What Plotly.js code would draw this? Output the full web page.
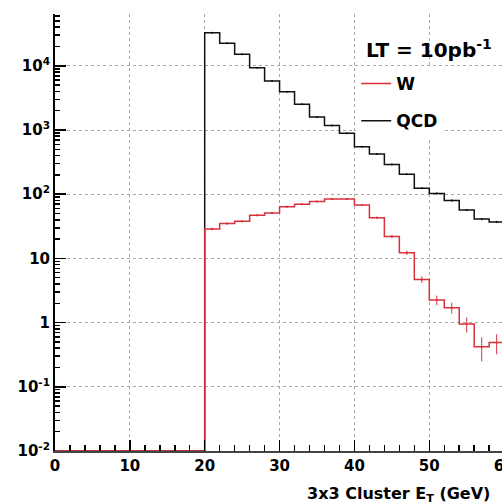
<!DOCTYPE html>
<html>
<head>
<meta charset="utf-8">
<script src="https://cdn.plot.ly/plotly-3.0.1.min.js"></script>
<style>
html,body{margin:0;padding:0;overflow:hidden;background:#fff;}
#chart{width:600px;height:504px;}
</style>
</head>
<body>
<div id="chart"></div>
<script>
// Bin lower edges (GeV), 2 GeV bins
const binLow = [0,2,4,6,8,10,12,14,16,18,20,22,24,26,28,30,32,34,36,38,40,42,44,46,48,50,52,54,56,58];
const binWidth = 2;
// QCD counts per bin
const qcd = [0,0,0,0,0,0,0,0,0,0, 32800,22400,15100,9340,5800,3950,2510,1600,1180,890,550,423,290,204,124,103,80,57,41,37];
const qcdErr = [0,0,0,0,0,0,0,0,0,0, 45,37,30,24,19,16,13,10,9,7.5,6,5.2,4.3,3.6,2.8,2.6,2.3,1.9,1.6,1.5];
// W counts per bin
const w = [0,0,0,0,0,0,0,0,0,0, 28.7,35,38,47,51,64,70,77,84,84,68,43,22,12.3,4.7,2.25,1.71,0.95,0.42,0.49];
const wErr = [0,0,0,0,0,0,0,0,0,0, 1.4,1.5,1.6,1.8,1.9,2.1,2.2,2.3,2.4,2.4,2.2,1.7,1.2,0.9,0.55,0.38,0.33,0.25,0.17,0.17];
// Axis tick labels
const yTickVals = [0.01,0.1,1,10,100,1000,10000];
const yTickText = ["10<sup>-2</sup>","10<sup>-1</sup>","1","10","10<sup>2</sup>","10<sup>3</sup>","10<sup>4</sup>"];
const legendTitle = "LT = 10pb<sup>-1</sup>";
const xTitle = "3x3 Cluster E<sub>T</sub> (GeV)";
const seriesNames = ["W","QCD"];

const yMinLog = -2, yMaxLog = 4.807;
const floorVal = Math.pow(10, yMinLog);
const FONT = "DejaVu Sans";

function stepTrace(vals, name, color, rank) {
  const x = binLow.concat([binLow[binLow.length-1] + binWidth]);
  const yv = vals.map(v => v > 0 ? v : floorVal);
  const y = yv.concat([yv[yv.length-1]]);
  return {x, y, type:'scatter', mode:'lines', name, legendgroup:name, legendrank:rank,
    line:{shape:'hv', color, width:1.5}, hoverinfo:'skip'};
}
function errTrace(vals, errs, color) {
  const x=[], y=[], e=[];
  vals.forEach((v,i)=>{ if(v>0){ x.push(binLow[i]+binWidth/2); y.push(v); e.push(errs[i]); } });
  return {x, y, type:'scatter', mode:'markers', showlegend:false,
    marker:{size:2, color}, error_y:{type:'data', array:e, visible:true, color, thickness:1, width:0}, hoverinfo:'skip'};
}

const qcdColor = '#111111', wColor = '#d8303c';
const data = [
  stepTrace(qcd, seriesNames[1], qcdColor, 2),
  errTrace(qcd, qcdErr, qcdColor),
  stepTrace(w, seriesNames[0], wColor, 1),
  errTrace(w, wErr, wColor)
];

const plotLeft = 55, plotW = 523.6, plotTop = 14, plotBottom = 451;
const plotH = plotBottom - plotTop;
const px = p => (p - plotLeft) / plotW;
const py = p => (plotBottom - p) / plotH;

const layout = {
  width: 600, height: 504,
  margin: {l: plotLeft, r: 600 - plotLeft - plotW, t: plotTop, b: 504 - plotBottom},
  paper_bgcolor: '#fff', plot_bgcolor: '#fff',
  showlegend: true,
  xaxis: {
    range: [0, 70], tick0: 0, dtick: 10, ticks: 'inside', ticklen: 11, tickcolor: '#000', tickwidth: 1.5,
    showline: true, linecolor: '#444', linewidth: 1.5, zeroline: false,
    showgrid: true, gridcolor: '#a8a8a8', griddash: '3px,3px', gridwidth: 1,
    tickfont: {family: FONT, size: 15, color: '#000', weight: 'bold'},
    minor: {dtick: 2, ticks: 'inside', ticklen: 6, tickcolor: '#000', showgrid: false}
  },
  yaxis: {
    type: 'log', range: [yMinLog, yMaxLog], tickmode: 'array', tickvals: yTickVals, ticktext: yTickText,
    ticks: 'inside', ticklen: 11, tickcolor: '#000', tickwidth: 1.5,
    showline: true, linecolor: '#000', linewidth: 2, zeroline: false,
    showgrid: true, gridcolor: '#a8a8a8', griddash: '3px,3px', gridwidth: 1,
    tickfont: {family: FONT, size: 15, color: '#000', weight: 'bold'},
    minor: {dtick: 'D1', ticks: 'inside', ticklen: 5, tickcolor: '#000', showgrid: false}
  },
  legend: {
    x: px(356), y: py(66), xanchor: 'left', yanchor: 'top',
    bgcolor: '#fff', borderwidth: 0, tracegroupgap: 12, traceorder: 'grouped',
    font: {family: FONT, size: 17, color: '#000', weight: 'bold'}
  },
  annotations: [
    {text: legendTitle, xref: 'paper', yref: 'paper', x: px(364), y: py(49), xanchor: 'left', yanchor: 'middle',
     showarrow: false, font: {family: FONT, size: 20, color: '#000', weight: 'bold'}},
    {text: xTitle, xref: 'paper', yref: 'paper', x: px(305), y: py(495), xanchor: 'left', yanchor: 'middle',
     showarrow: false, font: {family: FONT, size: 16, color: '#000', weight: 'bold'}}
  ]
};

Plotly.newPlot('chart', data, layout, {staticPlot: true, displayModeBar: false});
</script>
</body>
</html>
